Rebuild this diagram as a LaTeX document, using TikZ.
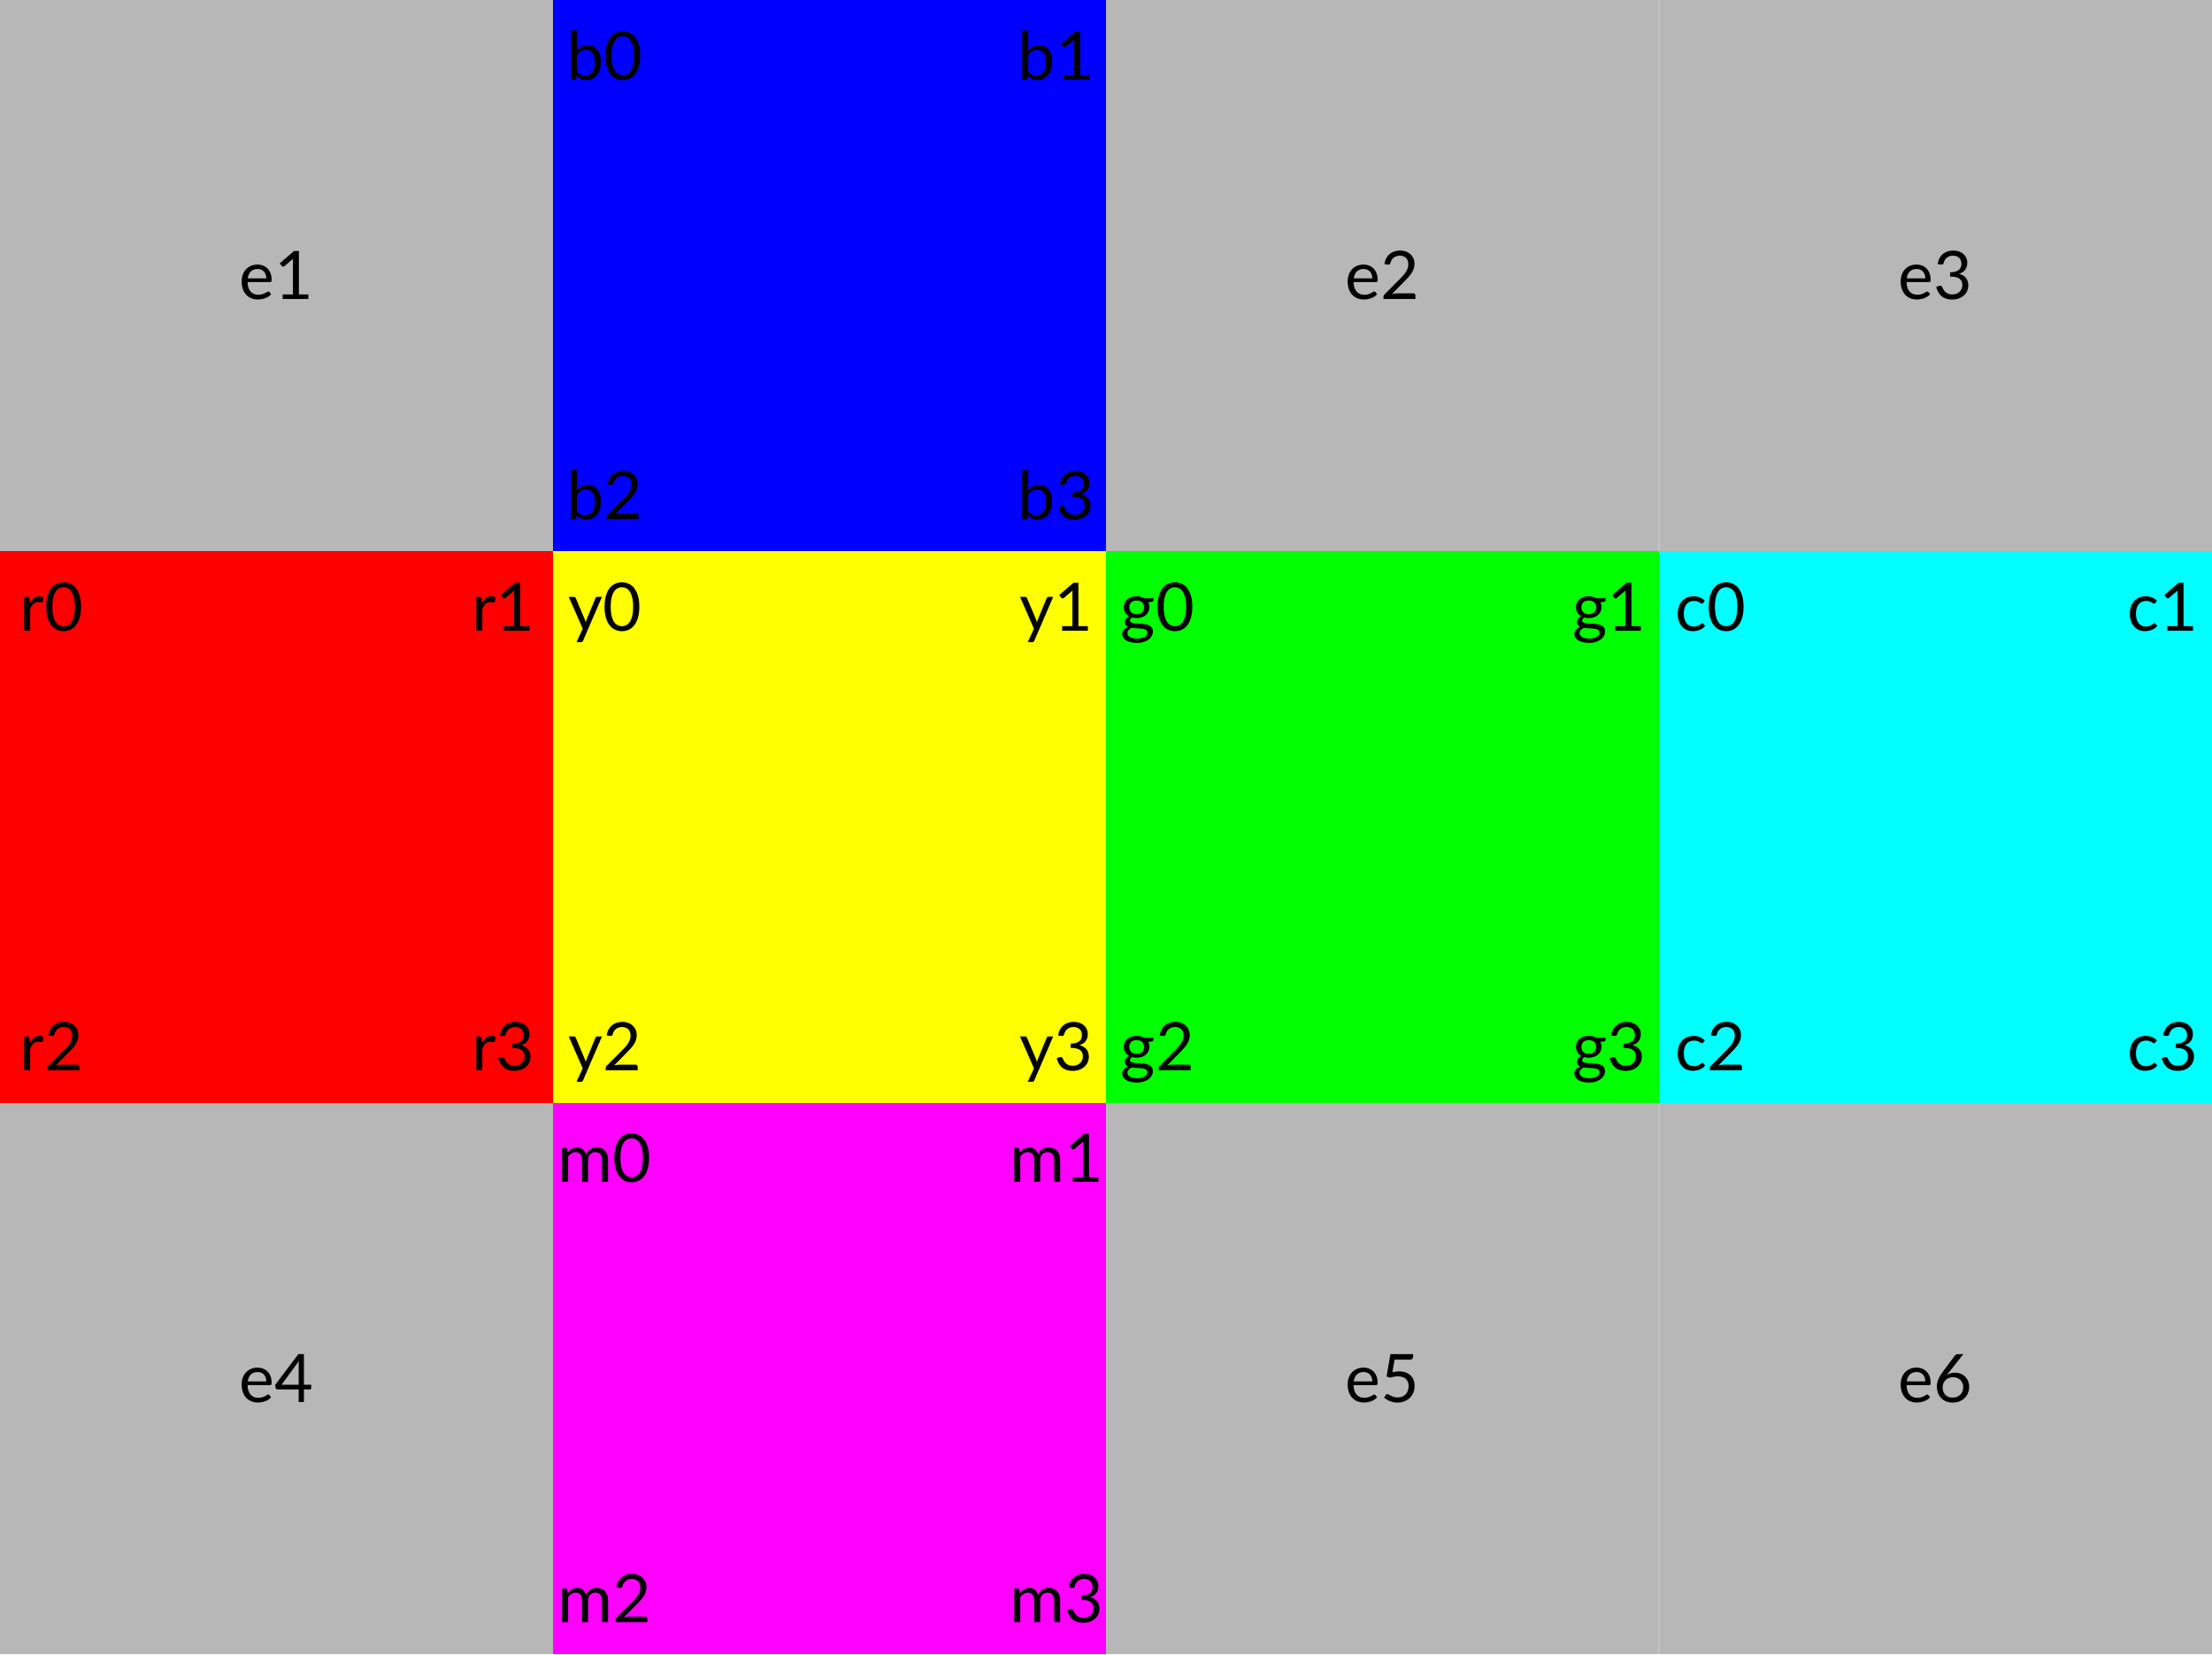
\documentclass[tikz,border=0pt]{standalone}
\usepackage{fontspec}
\setmainfont{Lato}
\begin{document}
\begin{tikzpicture}[x=6.25cm, y=6.2333cm, font=\fontsize{21.5}{26}\selectfont]

\definecolor{celdae}{RGB}{183,183,183}
\definecolor{bordee}{RGB}{196,196,196}
\definecolor{azul}{RGB}{0,0,255}
\definecolor{rojo}{RGB}{255,0,0}
\definecolor{amarillo}{RGB}{255,255,0}
\definecolor{verde}{RGB}{0,255,0}
\definecolor{cian}{RGB}{0,255,255}
\definecolor{magenta}{RGB}{255,0,255}

\def\DX{0.585cm}
\def\DXR{0.56cm}
\def\DA{0.90cm}
\def\DB{0.36cm}

\useasboundingbox (0,0) rectangle (4,-3);

% Celdas vacias (gris)
\foreach \c/\r/\n in {0/0/1, 2/0/2, 3/0/3, 0/2/4, 2/2/5, 3/2/6}{
  \fill[celdae] (\c,-\r) rectangle (\c+1,-\r-1);
  \node (e\n) at (\c+0.5,-\r-0.5) {e\n};
}
\draw[bordee,line width=0.4pt] (3,0) -- (3,-1);
\draw[bordee,line width=0.4pt] (3,-2) -- (3,-3);

% === CARAS DEL CUBO ===
\foreach \c/\r/\col/\n in {1/0/azul/b, 0/1/rojo/r, 1/1/amarillo/y, 2/1/verde/g, 3/1/cian/c, 1/2/magenta/m}{
  \fill[\col] (\c,-\r) rectangle (\c+1,-\r-1);
  \node[anchor=base] (\n0) at ([shift={(\DX,-\DA)}]\c,-\r)      {\n0};
  \node[anchor=base] (\n1) at ([shift={(-\DXR,-\DA)}]\c+1,-\r)  {\n1};
  \node[anchor=base] (\n2) at ([shift={(\DX,\DB)}]\c,-\r-1)     {\n2};
  \node[anchor=base] (\n3) at ([shift={(-\DXR,\DB)}]\c+1,-\r-1) {\n3};
}

\end{tikzpicture}
\end{document}
